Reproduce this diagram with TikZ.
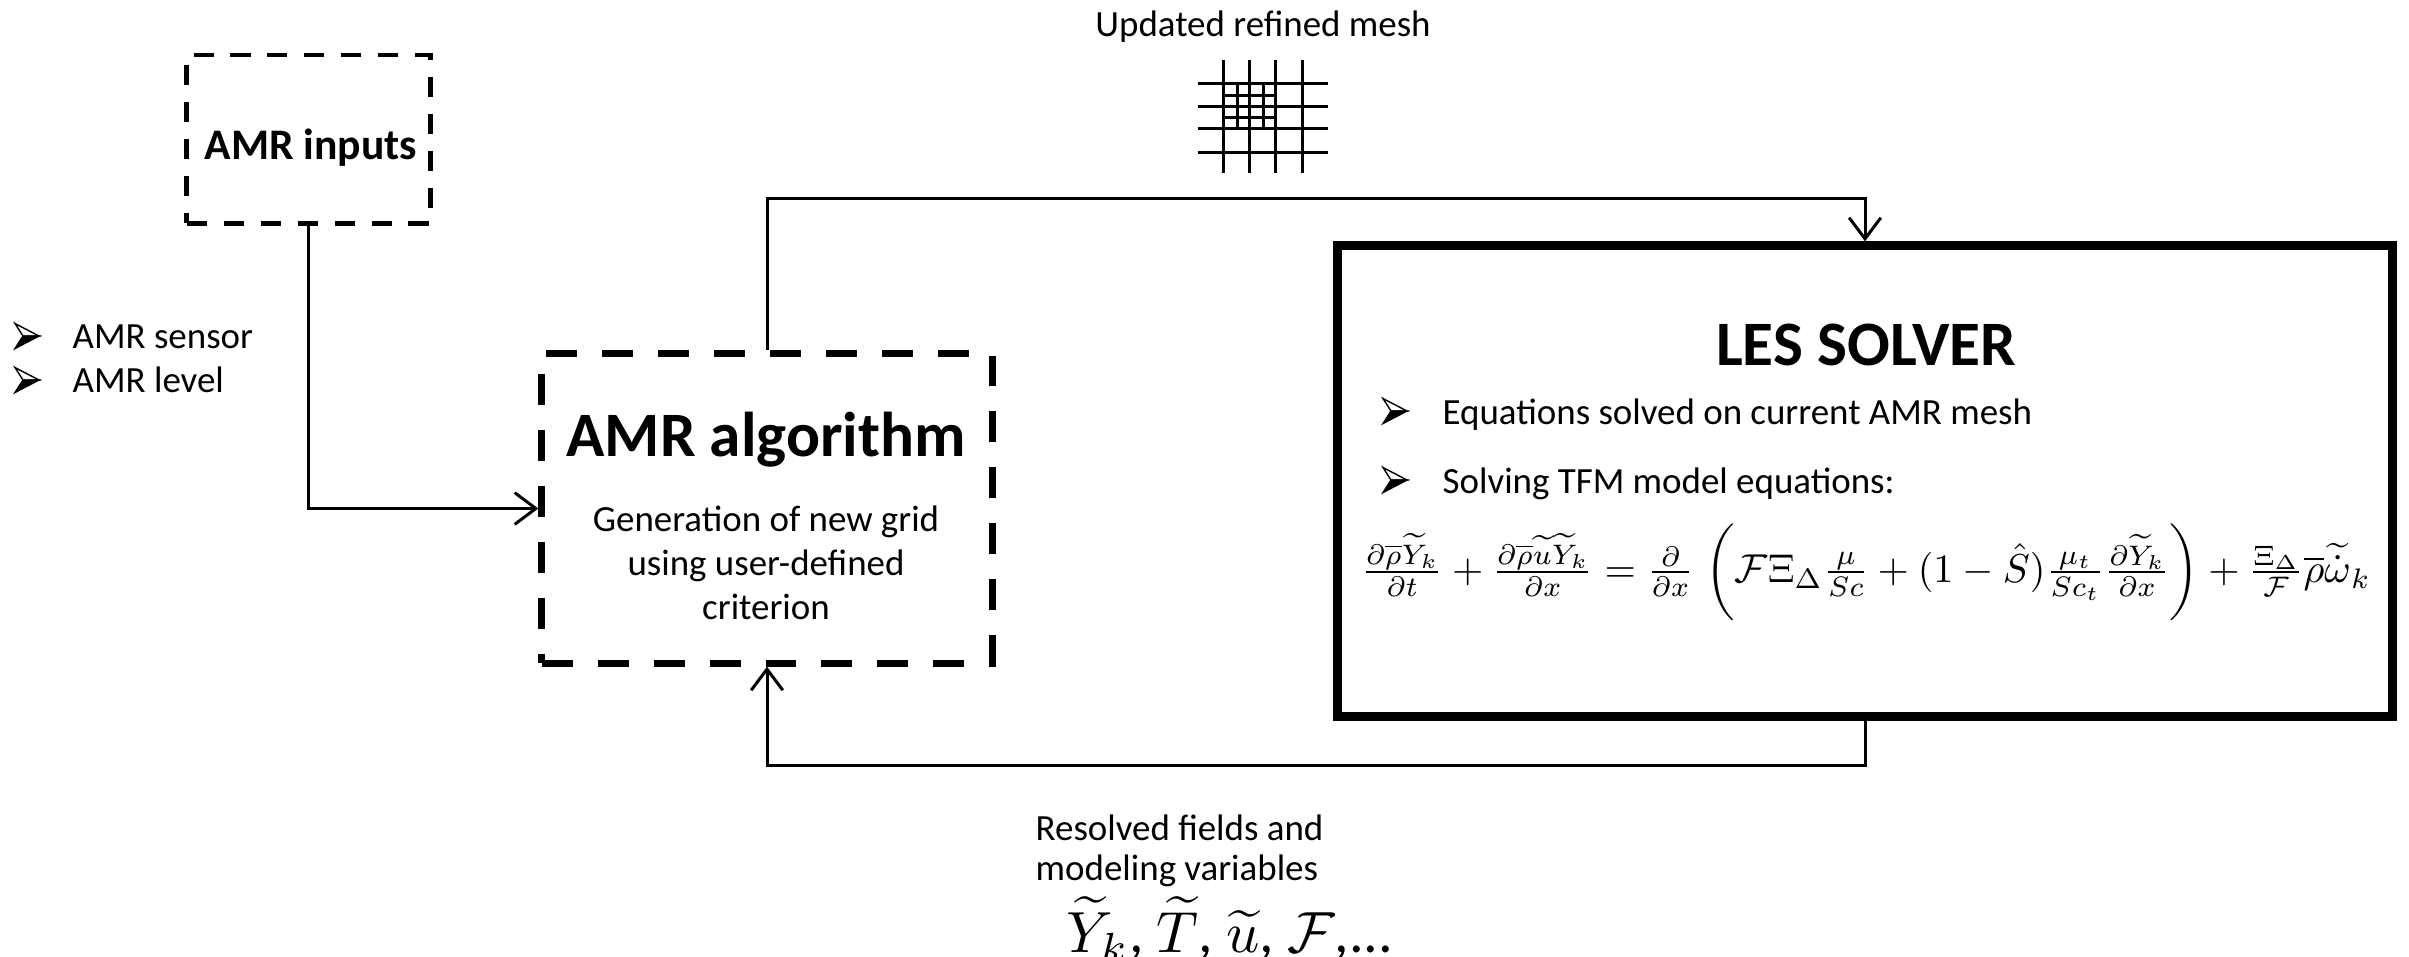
\documentclass[tikz,border=0pt]{standalone}
\usepackage{fontspec}
\setmainfont{Carlito}
\usetikzlibrary{arrows.meta,calc}
\begin{document}
\begin{tikzpicture}[x=0.01cm,y=-0.01cm,
 conn/.style={line width=0.85pt,-{Straight Barb[length=6pt,width=9pt,line width=0.85pt]}},
 inbox/.style={draw,line width=1.4pt,dash pattern=on 5.7pt off 4.8pt,minimum width=2.43cm,minimum height=1.68cm,inner sep=0},
 algbox/.style={draw,line width=2pt,dash pattern=on 8.8pt off 7.1pt,minimum width=4.5cm,minimum height=3.09cm,inner sep=0},
 lesbox/.style={draw,line width=2.6pt,minimum width=10.54cm,minimum height=4.7cm,inner sep=0},
 txt/.style={font=\fontsize{10.5}{11.4}\selectfont,inner sep=0},
 meshline/.style={line width=0.85pt},
 arrowbullet/.pic={
   \filldraw[fill=white,draw=black,line width=0.4pt,line join=miter] (-12,-12.5) -- (12,0) -- (-4,0) -- cycle;
   \filldraw[fill=black,draw=black,line width=0.4pt,line join=miter] (-4,0) -- (12,0) -- (-12,12.5) -- cycle;
 }]
\fill[white] (0,0) rectangle (2409,956);
\useasboundingbox (0,0) rectangle (2409,956);

% boxes
\node[inbox] (inputs) at (308.5,139) {};
\node[font=\bfseries\fontsize{12.4}{14}\selectfont,inner sep=0] (inputsT) at (311,148) {AMR inputs};
\node[algbox] (alg) at (767,508.5) {};
\node[lesbox] (les) at (1865,481) {};

% AMR inputs bullets
\pic at (27,336) {arrowbullet};
\node[txt,anchor=west] (s1) at (72,337) {AMR sensor};
\pic at (27,380) {arrowbullet};
\node[txt,anchor=west] (s2) at (72,380) {AMR level};

% AMR algorithm texts
\node[font=\bfseries\fontsize{18}{21}\selectfont,inner sep=0] (algT) at (766,440) {AMR algorithm};
\node[font=\fontsize{10.5}{12.5}\selectfont,align=center,inner sep=0] (algS) at (766,563) {Generation of new grid\\using user-defined\\criterion};

% LES solver texts
\node[font=\bfseries\fontsize{18}{21}\selectfont,inner sep=0] (lesT) at (1866,345) {LES SOLVER};
\pic at (1395,411) {arrowbullet};
\node[txt,anchor=west] (l1) at (1442,415) {Equations solved on current AMR mesh};
\pic at (1395,480) {arrowbullet};
\node[txt,anchor=west] (l2) at (1442,484) {Solving TFM model equations:};
\node[inner sep=0] (eq) at (1866,572) {\resizebox{10.09cm}{!}{$\frac{\partial \overline{\rho}\widetilde{Y}_k}{\partial t} + \frac{\partial \overline{\rho}\widetilde{u}\widetilde{Y}_k}{\partial x} = \frac{\partial}{\partial x}\;\biggl(\mathcal{F}\Xi_\Delta \frac{\mu}{Sc} + (1-\hat{S})\frac{\mu_t}{Sc_t}\frac{\partial \widetilde{Y}_k}{\partial x}\biggr) + \frac{\Xi_\Delta}{\mathcal{F}}\overline{\rho}\widetilde{\dot{\omega}}_k$}};

% top label and mesh
\node[txt] (upd) at (1263,27) {Updated refined mesh};
\foreach \x in {1223,1249,1275,1302} \draw[meshline] (\x,60) -- (\x,173);
\foreach \y in {83,106,128,152} \draw[meshline] (1198,\y) -- (1328,\y);
\foreach \x in {1237,1263} \draw[meshline] (\x,83) -- (\x,128);
\foreach \y in {95,117} \draw[meshline] (1223,\y) -- (1275,\y);

% bottom label
\node[txt,align=left,anchor=west] (res) at (1035,851) {Resolved fields and\\modeling variables};
\node[inner sep=0] (vars) at (1230,929) {\resizebox{3.26cm}{!}{$\widetilde{Y}_k$, $\widetilde{T}$, $\widetilde{u}$, $\mathcal{F}$,...}};

% connectors
\coordinate (tr) at (1865,198);
\coordinate (br) at (1865,765);
\draw[conn] (inputs.south) |- (alg.west);
\draw[conn] (alg.north) |- (tr) -- (les.north);
\draw[conn] (les.south) -- (br) -| (alg.south);
\end{tikzpicture}
\end{document}
